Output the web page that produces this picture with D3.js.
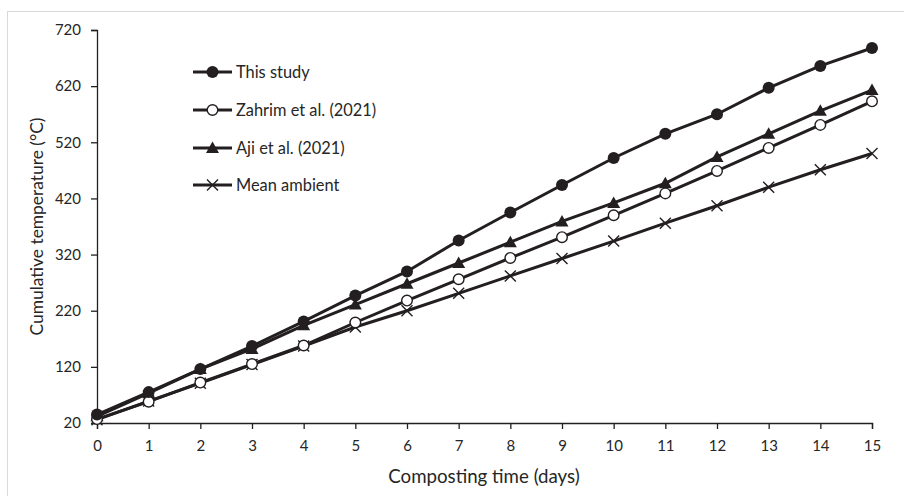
<!DOCTYPE html>
<html>
<head>
<meta charset="utf-8">
<script src="https://cdn.jsdelivr.net/npm/d3@7"></script>
<style>
  html, body { margin: 0; padding: 0; background: #fff; }
  svg { display: block; font-family: Lato, "Open Sans", sans-serif; }
</style>
</head>
<body>
<svg id="chart" width="904" height="496"></svg>
<script>
// Composting days (x) and cumulative temperature (°C) per series
const days = [0, 1, 2, 3, 4, 5, 6, 7, 8, 9, 10, 11, 12, 13, 14, 15];
const thisStudy   = [35, 75, 116, 157, 201, 247, 290, 345, 395, 444, 492, 535, 570, 617, 656, 688];
const zahrim2021  = [27, 58, 92, 125, 158, 199, 238, 276, 314, 351, 390, 429, 469, 510, 551, 593];
const aji2021     = [32, 73, 116, 152, 194, 231, 268, 305, 342, 379, 412, 447, 494, 535, 576, 613];
const meanAmbient = [26, 59, 91, 124, 157, 191, 220, 251, 282, 313, 344, 376, 407, 440, 471, 500];
const yTicks = [20, 120, 220, 320, 420, 520, 620, 720];
const seriesNames = ["This study", "Zahrim et al. (2021)", "Aji et al. (2021)", "Mean ambient"];

const ink = "#231f20";
const svg = d3.select("#chart");

// light frame around the chart area
svg.append("rect")
  .attr("x", 7.5).attr("y", 11.5)
  .attr("width", 930).attr("height", 520)
  .attr("fill", "none").attr("stroke", "#d9d9d9").attr("stroke-width", 1);

const x = d3.scaleLinear().domain([0, 15]).range([97, 872]);
const y = d3.scaleLinear().domain([20, 720]).range([423, 30]);

// axes
const xAxis = svg.append("g").attr("transform", `translate(0,${y(20)})`)
  .call(d3.axisBottom(x).tickValues(days).tickFormat(d3.format("d")).tickSizeOuter(0).tickSize(6).tickPadding(11));
const yAxis = svg.append("g").attr("transform", `translate(${x(0)},0)`)
  .call(d3.axisLeft(y).tickValues(yTicks).tickFormat(d3.format("d")).tickSizeOuter(0).tickSize(6).tickPadding(10));
[xAxis, yAxis].forEach(g => {
  g.select(".domain").attr("stroke", ink).attr("stroke-width", 1.3);
  g.selectAll(".tick line").attr("stroke", ink).attr("stroke-width", 1.3);
  g.selectAll(".tick text").attr("fill", "#262626").attr("font-size", 15).attr("font-family", "Lato, 'Open Sans', sans-serif");
});

// axis titles
svg.append("text")
  .attr("x", 484).attr("y", 483)
  .attr("text-anchor", "middle").attr("font-size", 18.7).attr("fill", "#262626")
  .text("Composting time (days)");
svg.append("text")
  .attr("transform", `translate(43,${(y(20) + y(720)) / 2}) rotate(-90)`)
  .attr("text-anchor", "middle").attr("font-size", 17.4).attr("fill", "#262626")
  .text("Cumulative temperature (°C)");

// marker drawers
function drawMarker(g, kind, cx, cy) {
  if (kind === "filled") {
    g.append("circle").attr("cx", cx).attr("cy", cy).attr("r", 6).attr("fill", ink);
  } else if (kind === "open") {
    g.append("circle").attr("cx", cx).attr("cy", cy).attr("r", 5.3)
      .attr("fill", "#fff").attr("stroke", ink).attr("stroke-width", 1.4);
  } else if (kind === "tri") {
    g.append("path")
      .attr("d", `M${cx},${cy - 6.5}L${cx + 6.5},${cy + 5}L${cx - 6.5},${cy + 5}Z`)
      .attr("fill", ink);
  } else if (kind === "cross") {
    const s = 5.5;
    g.append("path")
      .attr("d", `M${cx - s},${cy - s}L${cx + s},${cy + s}M${cx - s},${cy + s}L${cx + s},${cy - s}`)
      .attr("stroke", ink).attr("stroke-width", 1.4).attr("fill", "none");
  }
}

const series = [
  { name: seriesNames[0], values: thisStudy, marker: "filled" },
  { name: seriesNames[1], values: zahrim2021, marker: "open" },
  { name: seriesNames[2], values: aji2021, marker: "tri" },
  { name: seriesNames[3], values: meanAmbient, marker: "cross" }
];

const line = d3.line().x((d, i) => x(days[i])).y(d => y(d));

// draw back-to-front so "This study" sits on top
[...series].reverse().forEach(s => {
  const g = svg.append("g");
  g.append("path").attr("d", line(s.values))
    .attr("fill", "none").attr("stroke", ink).attr("stroke-width", 3);
  s.values.forEach((v, i) => drawMarker(g, s.marker, x(days[i]), y(v)));
});

// legend
const legendY = [72, 110, 148, 185];
series.forEach((s, i) => {
  const g = svg.append("g");
  g.append("line").attr("x1", 193).attr("x2", 232).attr("y1", legendY[i]).attr("y2", legendY[i])
    .attr("stroke", ink).attr("stroke-width", 3);
  drawMarker(g, s.marker, 212.5, legendY[i]);
  g.append("text").attr("x", 236).attr("y", legendY[i] + 6)
    .attr("font-size", 16.4).attr("fill", "#262626").text(s.name);
});
</script>
</body>
</html>
